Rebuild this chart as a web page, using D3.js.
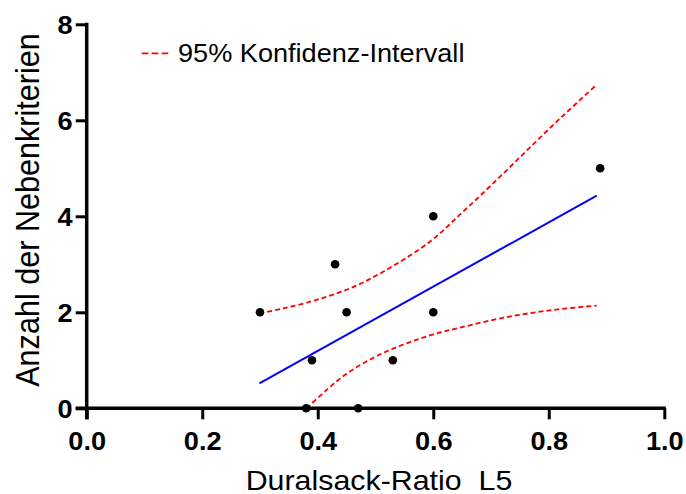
<!DOCTYPE html>
<html>
<head>
<meta charset="utf-8">
<script src="https://cdn.jsdelivr.net/npm/d3@7"></script>
<style>
  html, body { margin: 0; padding: 0; background: #fff; }
  svg { display: block; font-family: 'Liberation Sans', Arial, sans-serif; }
</style>
</head>
<body>
<svg id="chart" width="686" height="494"></svg>
<script>
// measured points
const ratio = [0.30, 0.38, 0.39, 0.43, 0.45, 0.47, 0.53, 0.60, 0.60, 0.889];
const criteria = [2, 0, 1, 3, 2, 0, 1, 4, 2, 5];

// regression line
const fitX = [0.299, 0.883];
const fitY = [0.52, 4.43];

// 95% band
const upperX = [0.299, 0.34, 0.398, 0.456, 0.514, 0.594, 0.652, 0.71, 0.767, 0.825, 0.883];
const upperY = [1.98, 2.08, 2.26, 2.50, 2.85, 3.47, 4.10, 4.76, 5.43, 6.10, 6.74];
const lowerX = [0.381, 0.415, 0.45, 0.485, 0.52, 0.56, 0.60, 0.646, 0.727, 0.808, 0.883];
const lowerY = [0, 0.38, 0.72, 0.98, 1.19, 1.38, 1.54, 1.68, 1.9, 2.05, 2.14];

const xTicks = [0, 0.2, 0.4, 0.6, 0.8, 1.0];
const yTicks = [0, 2, 4, 6, 8];

const xLabel = 'Duralsack-Ratio  L5';
const yLabel = 'Anzahl der Nebenkriterien';
const legendLabel = '95% Konfidenz-Intervall';

const STRETCH = 1.085; // glyphs in the original are a bit wide
const TICK = 11;

const svg = d3.select('#chart');

const x = d3.scaleLinear().domain([0, 1]).range([86.7, 664.3]);
const y = d3.scaleLinear().domain([0, 8]).range([408.3, 24.3]);

const zip = (xs, ys) => xs.map((v, i) => [v, ys[i]]);

const line = d3.line()
  .x(d => x(d[0]))
  .y(d => y(d[1]))
  .curve(d3.curveCatmullRom.alpha(0.5));

// band
svg.selectAll('path.ci')
  .data([zip(upperX, upperY), zip(lowerX, lowerY)])
  .join('path')
  .attr('class', 'ci')
  .attr('d', line)
  .attr('fill', 'none')
  .attr('stroke', '#ff0000')
  .attr('stroke-width', 1.8)
  .attr('stroke-dasharray', '5,3');

// fit
svg.append('path')
  .attr('d', d3.line().x(d => x(d[0])).y(d => y(d[1]))(zip(fitX, fitY)))
  .attr('fill', 'none')
  .attr('stroke', '#0000ff')
  .attr('stroke-width', 2);

// axes
const xAxis = svg.append('g')
  .attr('transform', `translate(0,${y(0)})`)
  .call(d3.axisBottom(x).tickValues(xTicks).tickSize(TICK).tickSizeOuter(0)
    .tickFormat(d3.format('.1f')));

const yAxis = svg.append('g')
  .attr('transform', `translate(${x(0)},0)`)
  .call(d3.axisLeft(y).tickValues(yTicks).tickSize(TICK).tickSizeOuter(0)
    .tickFormat(d3.format('d')));

[xAxis, yAxis].forEach(g => {
  g.select('.domain').remove();
  g.selectAll('.tick line').attr('stroke', '#000').attr('stroke-width', 3);
  g.selectAll('.tick text')
    .attr('fill', '#000')
    .style('font-size', '25px')
    .style('font-weight', 'bold');
});

xAxis.selectAll('.tick text')
  .attr('y', 0)
  .attr('dy', null)
  .attr('transform', `translate(0,42) scale(${STRETCH},1)`);

yAxis.selectAll('.tick text')
  .attr('x', 0)
  .attr('dy', '0.36em')
  .attr('transform', `translate(-14,0) scale(${STRETCH},1)`);

// axis lines, each reaching the other's tick length
svg.append('line')
  .attr('x1', x(0) - TICK).attr('x2', x(1) + 1.5)
  .attr('y1', y(0)).attr('y2', y(0))
  .attr('stroke', '#000').attr('stroke-width', 3.5);

svg.append('line')
  .attr('x1', x(0)).attr('x2', x(0))
  .attr('y1', y(8) - 1.5).attr('y2', y(0) + TICK)
  .attr('stroke', '#000').attr('stroke-width', 3.5);

// points
svg.selectAll('circle.pt')
  .data(zip(ratio, criteria))
  .join('circle')
  .attr('class', 'pt')
  .attr('cx', d => x(d[0]))
  .attr('cy', d => y(d[1]))
  .attr('r', 4.3)
  .attr('fill', '#000');

// axis titles
svg.append('text')
  .attr('transform', `translate(379,489.5) scale(${STRETCH},1)`)
  .attr('text-anchor', 'middle')
  .style('font-size', '28px')
  .style('white-space', 'pre')
  .text(xLabel);

svg.append('text')
  .attr('transform', `translate(39,210) scale(${STRETCH},1) rotate(-90)`)
  .attr('text-anchor', 'middle')
  .style('font-size', '30.6px')
  .text(yLabel);

// legend
svg.append('line')
  .attr('x1', 141.7).attr('x2', 168.3)
  .attr('y1', 53.3).attr('y2', 53.3)
  .attr('stroke', '#ff0000')
  .attr('stroke-width', 1.8)
  .attr('stroke-dasharray', '6.7,3.3');

svg.append('text')
  .attr('transform', `translate(178,61.7) scale(${STRETCH},1)`)
  .style('font-size', '25px')
  .text(legendLabel);
</script>
</body>
</html>
